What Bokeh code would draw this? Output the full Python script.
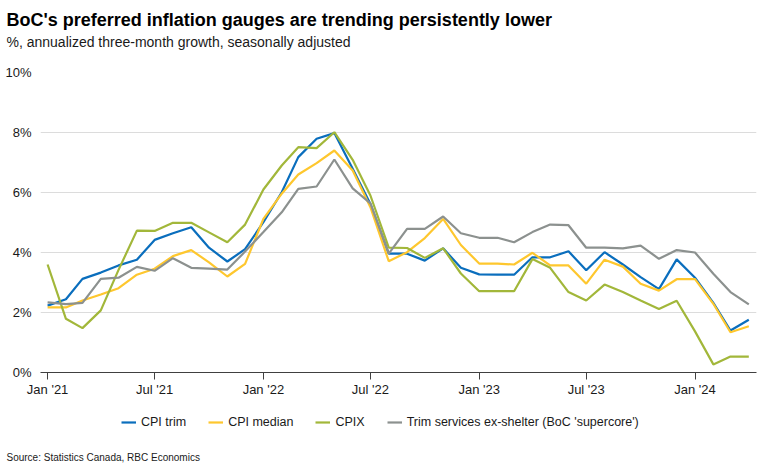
import pandas as pd
from bokeh.plotting import figure
from bokeh.layouts import column
from bokeh.models import (Range1d, FixedTicker, PrintfTickFormatter, DatetimeTickFormatter,
                          Legend, LegendItem, ColumnDataSource)
from bokeh.core.properties import value
from bokeh.embed import file_html
from bokeh.resources import INLINE

# ---- data ----
months = pd.date_range("2021-01-01", "2024-04-01", freq="MS")

cpi_trim = [2.23, 2.44, 3.12, 3.33, 3.57, 3.76, 4.42, 4.64, 4.84, 4.16, 3.70, 4.11,
            5.01, 6.01, 7.18, 7.79, 7.98, 6.79, 5.62, 3.96, 3.96, 3.73, 4.14, 3.49,
            3.27, 3.26, 3.26, 3.84, 3.84, 4.04, 3.41, 4.01, 3.60, 3.18, 2.78, 3.77,
            3.16, 2.32, 1.40, 1.76]
cpi_median = [2.17, 2.17, 2.40, 2.60, 2.81, 3.26, 3.46, 3.88, 4.08, 3.67, 3.20, 3.62,
              5.12, 5.96, 6.60, 6.98, 7.40, 6.73, 5.51, 3.71, 4.01, 4.48, 5.12, 4.25,
              3.63, 3.63, 3.60, 3.99, 3.57, 3.57, 2.96, 3.76, 3.53, 2.96, 2.73, 3.11,
              3.11, 2.29, 1.34, 1.54]
cpix = [3.60, 1.79, 1.48, 2.07, 3.42, 4.73, 4.72, 4.99, 4.99, 4.67, 4.34, 4.93,
        6.10, 6.90, 7.51, 7.48, 8.01, 7.09, 5.90, 4.16, 4.15, 3.82, 4.14, 3.30,
        2.71, 2.71, 2.71, 3.78, 3.49, 2.68, 2.40, 2.93, 2.68, 2.40, 2.12, 2.39,
        1.37, 0.27, 0.53, 0.53]
supercore = [2.34, 2.28, 2.32, 3.12, 3.16, 3.52, 3.39, 3.81, 3.49, 3.46, 3.43, 4.03,
             4.68, 5.34, 6.12, 6.20, 7.10, 6.14, 5.64, 3.96, 4.79, 4.79, 5.20, 4.64,
             4.49, 4.49, 4.34, 4.68, 4.93, 4.91, 4.16, 4.16, 4.14, 4.23, 3.79, 4.08,
             4.00, 3.29, 2.68, 2.27]

series_names = ["CPI trim", "CPI median", "CPIX", "Trim services ex-shelter (BoC 'supercore')"]
series_values = [cpi_trim, cpi_median, cpix, supercore]
colors = ["#0a6ebd", "#fec72e", "#a2b73a", "#8c918f"]

tick_dates = ["2021-01-01", "2021-07-01", "2022-01-01", "2022-07-01",
              "2023-01-01", "2023-07-01", "2024-01-01"]
y_ticks = [0, 2, 4, 6, 8, 10]

title_text = "BoC's preferred inflation gauges are trending persistently lower"
subtitle_text = "%, annualized three-month growth, seasonally adjusted"
source_text = "Source: Statistics Canada, RBC Economics"

FONT = "Liberation Sans"
W = 758
X0 = 6  # left inset of texts within figures


def blank_fig(h):
    f = figure(width=W, height=h, output_backend="svg", toolbar_location=None,
               x_range=Range1d(0, W), y_range=Range1d(h, 0),
               x_axis_location=None, y_axis_location=None, frame_align=False,
               min_border_left=0, min_border_right=0, min_border_top=0, min_border_bottom=0)
    f.grid.visible = False
    f.outline_line_color = None
    f.background_fill_color = "white"
    f.border_fill_color = "white"
    return f


# ---- header ----
top = blank_fig(62)
top.text(x=[X0], y=[19], text=[title_text], text_font=value(FONT), text_font_size=value("18px"),
         text_font_style="bold", text_baseline="middle", text_color="#000000")
top.text(x=[X0], y=[41], text=[subtitle_text], text_font=value(FONT), text_font_size=value("14px"),
         text_baseline="middle", text_color="#1a1a1a")

# ---- main chart ----
p = figure(width=W, height=338, x_axis_type="datetime",
           output_backend="svg", toolbar_location=None, frame_align=False,
           x_range=Range1d(pd.Timestamp("2020-12-20"), pd.Timestamp("2024-04-14")),
           y_range=Range1d(0, 10),
           min_border_left=40, min_border_right=2, min_border_top=10, min_border_bottom=28)
p.outline_line_color = None
p.background_fill_color = "white"
p.border_fill_color = "white"

for name, vals, col in zip(series_names, series_values, colors):
    src = ColumnDataSource(dict(x=months, y=vals))
    p.line("x", "y", source=src, line_color=col, line_width=2.2)

p.xgrid.grid_line_color = None
p.ygrid.grid_line_color = "#dcdcdc"
p.ygrid.grid_line_width = 1
p.ygrid.ticker = FixedTicker(ticks=y_ticks)

xa = p.xaxis[0]
xa.ticker = FixedTicker(ticks=[pd.Timestamp(d).value // 10**6 for d in tick_dates])
xa.formatter = DatetimeTickFormatter(months="%b '%y", years="%b '%y", days="%b '%y")
xa.axis_line_color = "#404040"
xa.major_tick_line_color = "#404040"
xa.major_tick_out = 7
xa.major_tick_in = 0
xa.minor_tick_line_color = None
xa.major_label_standoff = 2
xa.major_label_text_font = FONT
xa.major_label_text_font_size = "13px"
xa.major_label_text_color = "#1a1a1a"

ya = p.yaxis[0]
ya.ticker = FixedTicker(ticks=y_ticks)
ya.formatter = PrintfTickFormatter(format="%d%%")
ya.axis_line_color = None
ya.major_tick_line_color = None
ya.minor_tick_line_color = None
ya.major_label_standoff = 3
ya.major_label_text_font = FONT
ya.major_label_text_font_size = "13px"
ya.major_label_text_color = "#1a1a1a"

# ---- footer: legend + source ----
bot = blank_fig(66)
items = []
for name, col in zip(series_names, colors):
    r = bot.line(x=[-50, -40], y=[-50, -50], line_color=col, line_width=2.2)
    items.append(LegendItem(label=name, renderers=[r]))
legend = Legend(items=items, orientation="horizontal", location=(115 + X0, 37),
                glyph_width=15, glyph_height=14, label_height=14,
                label_standoff=5, spacing=22, padding=0, margin=0,
                border_line_color=None, background_fill_alpha=0,
                label_text_font=FONT, label_text_font_size="12.5px",
                label_text_color="#1a1a1a")
bot.add_layout(legend, "center")
bot.text(x=[X0], y=[57], text=[source_text], text_font=value(FONT), text_font_size=value("10px"),
         text_baseline="middle", text_color="#1a1a1a")

layout = column(top, p, bot, spacing=0)
open("out.html", "w").write(file_html(layout, INLINE))
